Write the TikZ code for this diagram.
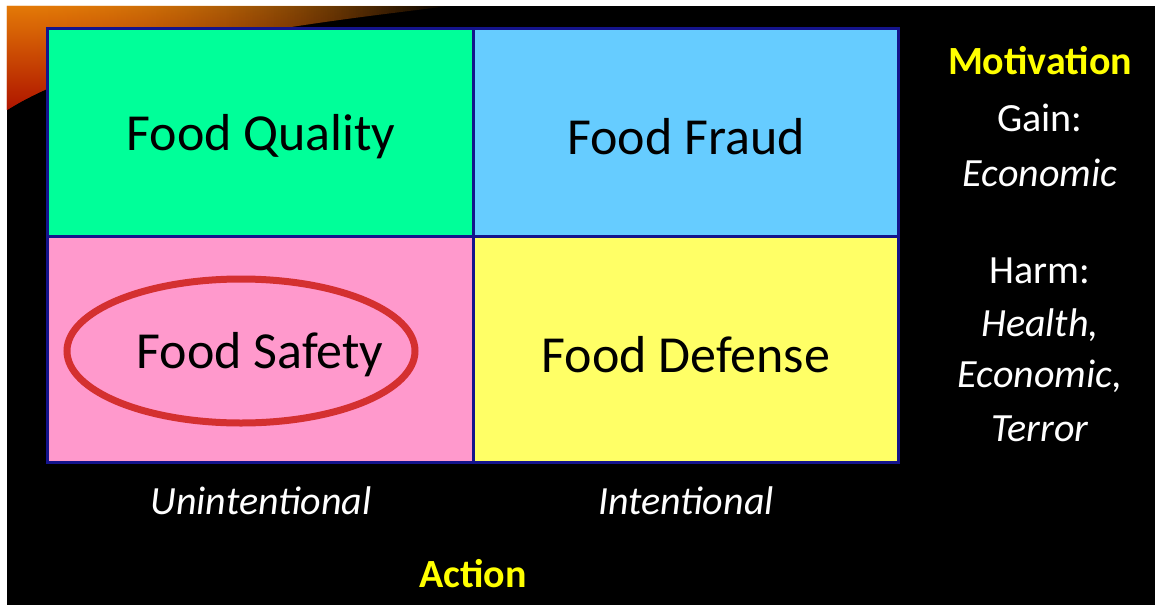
\documentclass[tikz,border=0pt]{standalone}
\usepackage{fontspec}
\setmainfont{Carlito}
\usetikzlibrary{fadings}
\definecolor{cgreen}{HTML}{00FF99}
\definecolor{cblue}{HTML}{66CCFF}
\definecolor{cpink}{HTML}{FF99CC}
\definecolor{cyel}{HTML}{FFFF66}
\definecolor{navy}{HTML}{14148C}
\definecolor{ytext}{HTML}{FFFF00}
\definecolor{ered}{HTML}{D43030}
\definecolor{orng}{HTML}{E47A08}
\definecolor{dred}{HTML}{B01500}
\tikzfading[name=fadeleftright, left color=transparent!0, right color=transparent!100]
\begin{document}
\begin{tikzpicture}[x=1pt,y=-1pt,
  cell/.style={draw=navy,line width=3pt},
  celltext/.style={font=\fontsize{52}{58}\selectfont,text=black},
  side/.style={font=\fontsize{40}{46}\selectfont,text=white},
  sidei/.style={font=\fontsize{40}{46}\selectfont\itshape,text=white},
  head/.style={font=\fontsize{40}{46}\selectfont\bfseries,text=ytext}]
\useasboundingbox (0,0) rectangle (1155,605);
\fill[white] (0,0) rectangle (1155,605);
\fill[black] (7,6) rectangle (1155,605);
% swoosh (drawn twice so it stays bright further to the right)
\foreach \k in {1,2}{
\shade[top color=orng, bottom color=dred, path fading=fadeleftright]
  (7,6) -- (450,6) .. controls (320,22) and (110,45) .. (7,110) -- cycle;
}
% cells
\path[cell,fill=cgreen] (47,28) rectangle (473,236);
\path[cell,fill=cblue] (473,28) rectangle (898,236);
\path[cell,fill=cpink] (47,236) rectangle (473,462);
\path[cell,fill=cyel] (473,236) rectangle (898,462);
\node[celltext] (fq) at (261,137) {Food Quality};
\node[celltext] (ff) at (686,137) {Food Fraud};
\node[celltext] (fs) at (260,355) {Food Safety};
\node[celltext] (fd) at (686,355) {Food Defense};
\draw[ered,line width=7pt] (241,351) ellipse [x radius=174, y radius=72];
% right column
\node[head] (mot) at (1040,61) {Motivation};
\node[side] (gain) at (1040,118) {Gain:};
\node[sidei] (econ) at (1040,173) {Economic};
\node[side] (harm) at (1040,271) {Harm:};
\node[sidei] (health) at (1040,325) {Health,};
\node[sidei] (econ2) at (1040,376) {Economic,};
\node[sidei] (terror) at (1040,429) {Terror};
% bottom
\node[sidei] (unint) at (261,501) {Unintentional};
\node[sidei] (int) at (686,501) {Intentional};
\node[head] (act) at (473,574) {Action};
\end{tikzpicture}
\end{document}
